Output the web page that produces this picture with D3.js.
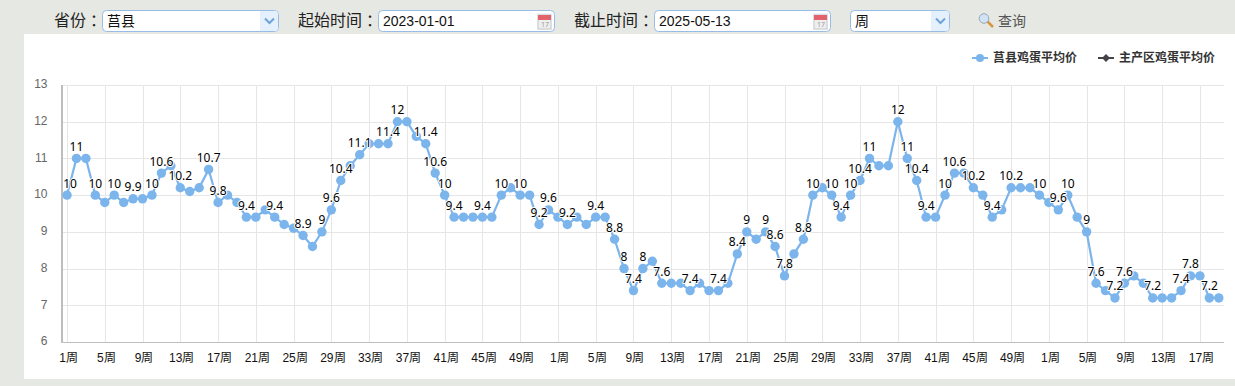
<!DOCTYPE html>
<html lang="zh-CN">
  <head>
    <meta charset="UTF-8" />
    <title>莒县鸡蛋平均价</title>
    <style>
      html, body { margin: 0; padding: 0; background: #e6e8e3; overflow: hidden; }
      svg { display: block; font-family: "Noto Sans", "Noto Sans CJK SC", sans-serif; }
      .grid line { stroke: #e6e6e6; shape-rendering: crispEdges; }
      .grid path { display: none; }
      .xlabels text { font-size: 12px; fill: #111; }
      .ylabels text { font-size: 12px; fill: #666; }
      .dlabel { font-size: 12px; fill: #000; text-anchor: middle; paint-order: stroke; stroke: #fff; stroke-width: 2px; stroke-linejoin: round; }
      .ctl { font-family: "Noto Sans CJK SC", sans-serif; font-size: 16px; fill: #222; }
      .val { font-family: "Liberation Sans", "Noto Sans CJK SC", sans-serif; font-size: 14px; fill: #111; }
      .legend { font-family: "Noto Sans CJK SC", sans-serif; font-size: 12px; font-weight: 700; fill: #333; }
    </style>
  </head>
  <body>
    <div id="chart"></div>

    <script src="https://cdn.jsdelivr.net/npm/d3@7/dist/d3.min.js"></script>
    <script>
    // weeks of 2023, 2024, 2025 (up to week 19)
    var weeks = d3.range(1, 53).concat(d3.range(1, 53), d3.range(1, 20));

    var prices = [
      10, 11, 11, 10, 9.8, 10, 9.8, 9.9, 9.9, 10, 10.6, 10.8, 10.2, 10.1, 10.2, 10.7,
      9.8, 10, 9.8, 9.4, 9.4, 9.6, 9.4, 9.2, 9.1, 8.9, 8.6, 9, 9.6, 10.4, 10.8, 11.1,
      11.4, 11.4, 11.4, 12, 12, 11.6, 11.4, 10.6, 10, 9.4, 9.4, 9.4, 9.4, 9.4, 10, 10.2,
      10, 10, 9.2, 9.6, 9.4, 9.2, 9.4, 9.2, 9.4, 9.4, 8.8, 8, 7.4, 8, 8.2, 7.6,
      7.6, 7.6, 7.4, 7.6, 7.4, 7.4, 7.6, 8.4, 9, 8.8, 9, 8.6, 7.8, 8.4, 8.8, 10,
      10.2, 10, 9.4, 10, 10.4, 11, 10.8, 10.8, 12, 11, 10.4, 9.4, 9.4, 10, 10.6, 10.6,
      10.2, 10, 9.4, 9.6, 10.2, 10.2, 10.2, 10, 9.8, 9.6, 10, 9.4, 9, 7.6, 7.4, 7.2,
      7.6, 7.8, 7.6, 7.2, 7.2, 7.2, 7.4, 7.8, 7.8, 7.2, 7.2
    ];

    // points that show a value, the others get hidden by the chart as overlapping
    var labelled = [
      0, 1, 3, 5, 7, 9, 10, 12, 15, 16, 19, 22, 25, 27, 28, 29, 31, 34, 35, 38, 39, 40,
      41, 44, 46, 48, 50, 51, 53, 56, 58, 59, 60, 61, 63, 66, 69, 71, 72, 74, 75, 76,
      78, 79, 81, 82, 83, 84, 85, 88, 89, 90, 91, 93, 94, 96, 98, 100, 103, 105, 106,
      108, 109, 111, 112, 115, 118, 119, 121
    ];

    var yTicks = [6, 7, 8, 9, 10, 11, 12, 13];
    var seriesNames = ["莒县鸡蛋平均价", "主产区鸡蛋平均价"];
    var seriesColors = ["#7cb5ec", "#434348"];

    var w = 1235, h = 386;
    var plotLeft = 63, plotRight = 1224, plotTop = 85, plotBottom = 342;

    var svg = d3.select("#chart").append("svg")
      .attr("width", w)
      .attr("height", h);

    svg.append("rect")
      .attr("x", 24).attr("y", 34)
      .attr("width", w - 24).attr("height", 345)
      .attr("fill", "#fff");

    // scales
    var x = d3.scalePoint()
      .domain(d3.range(weeks.length))
      .range([67, 1218.8]);

    var y = d3.scaleLinear()
      .domain([6, 13])
      .range([plotBottom, plotTop]);

    // gridlines + tick labels
    var xAxis = d3.axisBottom(x)
      .tickValues(d3.range(0, weeks.length, 4))
      .tickSize(plotTop - plotBottom)
      .tickFormat(function(i) { return weeks[i] + "周"; });

    var gx = svg.append("g")
      .attr("class", "grid xlabels")
      .attr("transform", "translate(0," + plotBottom + ")")
      .call(xAxis);
    gx.selectAll("text")
      .attr("x", 1)
      .attr("y", 19.5)
      .attr("dy", 0);

    var yAxis = d3.axisLeft(y)
      .tickValues(yTicks)
      .tickSize(plotLeft - plotRight)
      .tickFormat(d3.format("d"));

    var gy = svg.append("g")
      .attr("class", "grid ylabels")
      .attr("transform", "translate(" + plotLeft + ",0)")
      .call(yAxis);
    gy.selectAll("text")
      .attr("x", -15.5)
      .attr("y", -1);

    // axis lines
    svg.append("line")
      .attr("x1", plotLeft - 1).attr("x2", plotLeft - 1)
      .attr("y1", plotTop).attr("y2", plotBottom + 1)
      .attr("stroke", "#bdbdbd").attr("stroke-width", 2);
    svg.append("line")
      .attr("x1", plotLeft - 1).attr("x2", plotRight)
      .attr("y1", plotBottom + 0.5).attr("y2", plotBottom + 0.5)
      .attr("stroke", "#c0c0c0").attr("stroke-width", 1);

    // price line
    var line = d3.line()
      .x(function(d, i) { return x(i); })
      .y(function(d) { return y(d); });

    svg.append("path")
      .datum(prices)
      .attr("fill", "none")
      .attr("stroke", seriesColors[0])
      .attr("stroke-width", 2.2)
      .attr("d", line);

    svg.selectAll("circle.dot")
      .data(prices)
      .enter().append("circle")
      .attr("class", "dot")
      .attr("cx", function(d, i) { return x(i); })
      .attr("cy", function(d) { return y(d); })
      .attr("r", 4.7)
      .attr("fill", seriesColors[0]);

    svg.selectAll("text.dlabel")
      .data(labelled)
      .enter().append("text")
      .attr("class", "dlabel")
      .attr("x", function(i) { return Math.max(x(i), 70); })
      .attr("y", function(i) { return y(prices[i]) - 7.5; })
      .text(function(i) { return prices[i]; });

    // legend
    var legendX = [972, 1098];
    seriesNames.forEach(function(name, i) {
      var g = svg.append("g").attr("transform", "translate(" + legendX[i] + ",58)");
      g.append("line").attr("x1", 0).attr("x2", 16)
        .attr("stroke", seriesColors[i]).attr("stroke-width", 2);
      if (i == 0) {
        g.append("circle").attr("cx", 8).attr("r", 4).attr("fill", seriesColors[i]);
      } else {
        g.append("path").attr("d", "M8,-4L12,0L8,4L4,0Z").attr("fill", seriesColors[i]);
      }
      g.append("text").attr("class", "legend").attr("x", 21).attr("y", 4).text(name);
    });

    // top form row
    function label(x0, text) {
      var t = svg.append("text").attr("class", "ctl").attr("x", x0).attr("y", 26).text(text);
      t.append("tspan").attr("dx", 4).text("：");
    }

    function box(x0, x1) {
      svg.append("rect")
        .attr("x", x0 + 0.5).attr("y", 10.5)
        .attr("width", x1 - x0).attr("height", 21)
        .attr("rx", 4)
        .attr("fill", "#fff")
        .attr("stroke", "#98bce6");
    }

    function dropdown(x0, x1, text) {
      box(x0, x1);
      svg.append("path")
        .attr("d", "M" + (x1 - 18) + ",11 H" + (x1 - 3) + " a3,3 0 0 1 3,3 V28 a3,3 0 0 1 -3,3 H" + (x1 - 18) + "Z")
        .attr("fill", "#e4f0fc");
      svg.append("path")
        .attr("d", "M" + (x1 - 13) + ",18.5 l4.5,4.5 l4.5,-4.5")
        .attr("fill", "none")
        .attr("stroke", "#6fa3d8")
        .attr("stroke-width", 2);
      svg.append("text").attr("class", "val")
        .attr("x", x0 + 5).attr("y", 26)
        .style("font-family", "'Noto Sans CJK SC'")
        .text(text);
    }

    function dateInput(x0, x1, text) {
      box(x0, x1);
      svg.append("text").attr("class", "val")
        .attr("x", x0 + 5).attr("y", 26).text(text);
      var ix = x1 - 17;
      svg.append("rect").attr("x", ix).attr("y", 13).attr("width", 15).attr("height", 17).attr("fill", "#eef4fb");
      svg.append("rect").attr("x", ix + 1).attr("y", 15).attr("width", 13).attr("height", 14).attr("fill", "#eee").attr("stroke", "#c9c9c9");
      svg.append("rect").attr("x", ix + 1).attr("y", 15).attr("width", 13).attr("height", 5).attr("fill", "#e2636b");
      svg.append("text").attr("x", ix + 4).attr("y", 27)
        .style("font-size", "7px").style("fill", "#999").text("17");
    }

    label(54, "省份");
    dropdown(102, 278, "莒县");
    label(298, "起始时间");
    dateInput(378, 554, "2023-01-01");
    label(574, "截止时间");
    dateInput(654, 830, "2025-05-13");
    dropdown(850, 949, "周");

    // search button
    svg.append("line")
      .attr("x1", 987).attr("y1", 21).attr("x2", 993).attr("y2", 27)
      .attr("stroke", "#d9963f").attr("stroke-width", 2.5);
    svg.append("circle")
      .attr("cx", 984).attr("cy", 18.5).attr("r", 4.8)
      .attr("fill", "#cfe3f5").attr("stroke", "#9aa9b5");
    svg.append("text").attr("x", 998).attr("y", 26)
      .style("font-family", "'Noto Sans CJK SC'")
      .style("font-size", "14px")
      .style("fill", "#555")
      .text("查询");
    </script>
  </body>
</html>
